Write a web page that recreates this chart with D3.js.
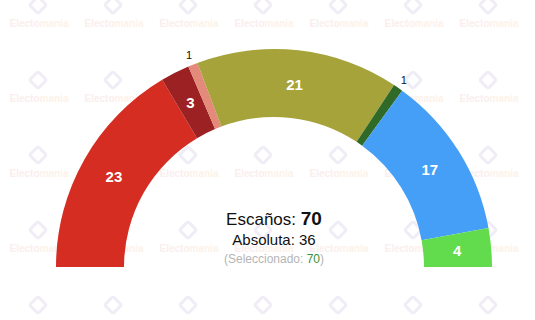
<!DOCTYPE html>
<html>
<head>
<meta charset="utf-8">
<script src="https://cdn.jsdelivr.net/npm/d3@7"></script>
<style>
  body { margin: 0; background: #fff; }
  svg { display: block; font-family: 'Liberation Sans', Arial, sans-serif; }
</style>
</head>
<body>
<svg></svg>
<script>
// seats per party, left to right
const parties = ['p1', 'p2', 'p3', 'p4', 'p5', 'p6', 'p7'];
const seats = [23, 3, 1, 21, 1, 17, 4];
const colors = ['#d52d21', '#9c2122', '#e38a7b', '#a6a33a', '#2f6a28', '#459ff6', '#62dc4d'];

const totalSeats = 70;
const majority = 36;
const selected = 70;

const width = 535;
const height = 320;
const cx = 274;
const cy = 267;
const outerR = 218;
const innerR = 150;

const svg = d3.select('svg').attr('width', width).attr('height', height);

// faint watermark grid
const drawWatermark = () => {
  const wm = svg.append('g').attr('class', 'watermark');
  const cols = d3.range(0, 7).map((i) => 38 + i * 75);
  const rows = d3.range(0, 5).map((i) => 5 + i * 75);
  rows.forEach((y, ri) => {
    cols.forEach((x) => {
      wm.append('rect')
        .attr('x', x - 6)
        .attr('y', y - 6)
        .attr('width', 12)
        .attr('height', 12)
        .attr('rx', 2)
        .attr('transform', 'rotate(45,' + x + ',' + y + ')')
        .attr('fill', 'none')
        .attr('stroke', '#f1edf6')
        .attr('stroke-width', 3);
      if (ri === rows.length - 1) return;
      const t = wm.append('text')
        .attr('x', x + 1)
        .attr('y', y + 22)
        .attr('text-anchor', 'middle')
        .attr('font-size', 10)
        .attr('font-weight', 'bold');
      t.append('tspan').attr('fill', '#faeeee').text('Electo');
      t.append('tspan').attr('fill', '#fdf2e9').text('mania');
    });
  });
};

const drawArcs = () => {
  const pie = d3.pie()
    .sort(null)
    .startAngle(-Math.PI / 2)
    .endAngle(Math.PI / 2);

  const arcs = pie(seats);

  const arc = d3.arc().innerRadius(innerR).outerRadius(outerR);
  const labelArc = d3.arc().innerRadius(outerR + 10).outerRadius(outerR + 10);

  const g = svg.append('g').attr('transform', 'translate(' + cx + ',' + cy + ')');

  g.selectAll('path')
    .data(arcs)
    .enter()
    .append('path')
    .attr('d', arc)
    .attr('fill', (d, i) => colors[i]);

  g.selectAll('text.inner')
    .data(arcs.filter((d) => d.value > 1))
    .enter()
    .append('text')
    .attr('class', 'inner')
    .attr('transform', (d) => 'translate(' + arc.centroid(d) + ')')
    .attr('text-anchor', 'middle')
    .attr('dy', '0.36em')
    .attr('fill', '#fff')
    .attr('font-size', 15)
    .attr('font-weight', 'bold')
    .text((d) => d.value);

  g.selectAll('text.outer')
    .data(arcs.filter((d) => d.value <= 1))
    .enter()
    .append('text')
    .attr('class', 'outer')
    .attr('transform', (d) => 'translate(' + labelArc.centroid(d) + ')')
    .attr('text-anchor', 'middle')
    .attr('dy', '0.36em')
    .attr('fill', '#111')
    .attr('font-size', 11)
    .text((d) => d.value);
};

const drawSummary = () => {
  const t1 = svg.append('text')
    .attr('x', cx)
    .attr('y', 225)
    .attr('text-anchor', 'middle')
    .attr('font-size', 17)
    .attr('fill', '#111');
  t1.append('tspan').text('Escaños: ');
  t1.append('tspan').attr('font-weight', 'bold').attr('font-size', 19).text(totalSeats);

  svg.append('text')
    .attr('x', cx)
    .attr('y', 245)
    .attr('text-anchor', 'middle')
    .attr('font-size', 15)
    .attr('fill', '#111')
    .text('Absoluta: ' + majority);

  const t3 = svg.append('text')
    .attr('x', cx)
    .attr('y', 263)
    .attr('text-anchor', 'middle')
    .attr('font-size', 12)
    .attr('fill', '#b5b5b5');
  t3.append('tspan').text('(Seleccionado: ');
  t3.append('tspan').attr('fill', '#3c8f35').text(selected);
  t3.append('tspan').text(')');
};

drawWatermark();
drawArcs();
drawSummary();
</script>
</body>
</html>
